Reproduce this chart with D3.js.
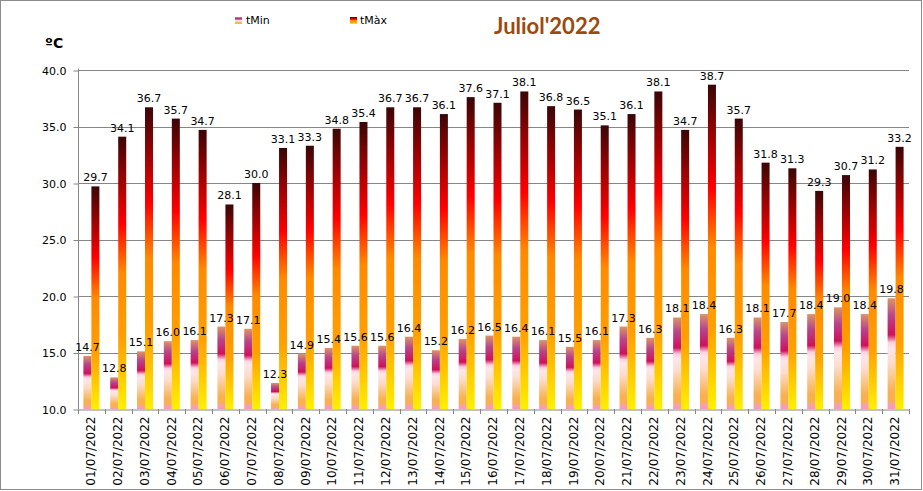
<!DOCTYPE html>
<html><head><meta charset="utf-8">
<script src="https://cdn.jsdelivr.net/npm/d3@7"></script>
<style>body{margin:0;background:#fff}svg{display:block}</style>
</head><body>
<svg id="c" width="923" height="491"></svg>
<script>
const dates = ["01/07/2022","02/07/2022","03/07/2022","04/07/2022","05/07/2022","06/07/2022","07/07/2022","08/07/2022","09/07/2022","10/07/2022","11/07/2022","12/07/2022","13/07/2022","14/07/2022","15/07/2022","16/07/2022","17/07/2022","18/07/2022","19/07/2022","20/07/2022","21/07/2022","22/07/2022","23/07/2022","24/07/2022","25/07/2022","26/07/2022","27/07/2022","28/07/2022","29/07/2022","30/07/2022","31/07/2022"];
const tMin = [14.7,12.8,15.1,16.0,16.1,17.3,17.1,12.3,14.9,15.4,15.6,15.6,16.4,15.2,16.2,16.5,16.4,16.1,15.5,16.1,17.3,16.3,18.1,18.4,16.3,18.1,17.7,18.4,19.0,18.4,19.8];
const tMax = [29.7,34.1,36.7,35.7,34.7,28.1,30.0,33.1,33.3,34.8,35.4,36.7,36.7,36.1,37.6,37.1,38.1,36.8,36.5,35.1,36.1,38.1,34.7,38.7,35.7,31.8,31.3,29.3,30.7,31.2,33.2];
const yTicks = [10,15,20,25,30,35,40];
const seriesNames = ["tMin","tMàx"];
const title = "Juliol'2022";
const unit = "ºC";

const svg = d3.select("#c");
const defs = svg.append("defs");
const gMin = defs.append("linearGradient").attr("id","gmin").attr("x1",0).attr("y1",0).attr("x2",0).attr("y2",1);
[[0,"#dc9468"],[0.16,"#b8448a"],[0.33,"#d0105c"],[0.40,"#fbd0e0"],[0.45,"#fde6ea"],[0.58,"#fcdccc"],[0.75,"#f9c07a"],[0.85,"#f8b050"],[0.92,"#f8b050"],[0.96,"#f8a0b0"],[1,"#f898b8"]]
  .forEach(s=>gMin.append("stop").attr("offset",s[0]).attr("stop-color",s[1]));
const gMax = defs.append("linearGradient").attr("id","gmax").attr("x1",0).attr("y1",0).attr("x2",0).attr("y2",1);
[[0,"#3a0606"],[0.32,"#ff0000"],[0.50,"#ff8a00"],[0.75,"#ffa000"],[1,"#fff000"]]
  .forEach(s=>gMax.append("stop").attr("offset",s[0]).attr("stop-color",s[1]));

// border
svg.append("rect").attr("x",0.5).attr("y",0.5).attr("width",921).attr("height",489).attr("fill","none").attr("stroke","#8c8c8c");

const x = d3.scaleBand().domain(dates).range([78,909]).padding(0);
const y = d3.scaleLinear().domain([10,40]).range([409,70]);
const axisColor = "#868686";
const font = "'DejaVu Sans', Verdana, sans-serif";

// gridlines
svg.append("g").selectAll("line").data(yTicks.filter(d=>d>10)).join("line")
  .attr("x1",78).attr("x2",909).attr("y1",d=>Math.round(y(d))+0.5).attr("y2",d=>Math.round(y(d))+0.5)
  .attr("stroke",axisColor).attr("stroke-width",1);

// y axis
const yAxis = svg.append("g").attr("transform","translate(78.5,0.5)")
  .call(d3.axisLeft(y).tickValues(yTicks).tickFormat(d3.format(".1f")).tickSize(5).tickSizeOuter(0));
yAxis.select(".domain").attr("stroke",axisColor).attr("d","M0,"+(y(40)-2)+"V"+y(10));
yAxis.selectAll(".tick line").attr("stroke",axisColor);
yAxis.selectAll(".tick text").attr("font-family",font).attr("font-size",11).attr("fill","#000").attr("x",-12).attr("dy","0.35em");

// bars
const bw = 8;
const gb = svg.append("g");
gb.selectAll("rect.min").data(dates).join("rect").attr("class","min")
  .attr("x",(d,i)=>x(d)+x.bandwidth()/2-bw).attr("width",bw)
  .attr("y",(d,i)=>y(tMin[i])).attr("height",(d,i)=>y(10)-y(tMin[i]))
  .attr("fill","url(#gmin)");
gb.selectAll("rect.max").data(dates).join("rect").attr("class","max")
  .attr("x",(d,i)=>x(d)+x.bandwidth()/2).attr("width",bw)
  .attr("y",(d,i)=>y(tMax[i])).attr("height",(d,i)=>y(10)-y(tMax[i]))
  .attr("fill","url(#gmax)");

// x axis
const xAxis = svg.append("g").attr("transform","translate(0.5,409.5)")
  .call(d3.axisBottom(x).tickSize(0).tickSizeOuter(0));
xAxis.select(".domain").attr("stroke",axisColor);
xAxis.selectAll(".tick line").remove();
svg.append("g").selectAll("line").data(d3.range(dates.length+1)).join("line")
  .attr("x1",i=>Math.round(78+i*x.step())+0.5).attr("x2",i=>Math.round(78+i*x.step())+0.5)
  .attr("y1",409).attr("y2",414).attr("stroke",axisColor);
xAxis.selectAll(".tick text").attr("font-family",font).attr("font-size",12).attr("fill","#000")
  .attr("transform","rotate(-90)").attr("text-anchor","end").attr("x",-7).attr("y",-1).attr("dy","0.35em");

// labels
const gl = svg.append("g").attr("font-family",font).attr("font-size",11).attr("fill","#000").attr("text-anchor","middle");
gl.selectAll("text.min").data(dates).join("text").attr("class","min")
  .attr("x",d=>x(d)+x.bandwidth()/2-bw/2).attr("y",(d,i)=>y(tMin[i])-5).text((d,i)=>tMin[i].toFixed(1));
gl.selectAll("text.max").data(dates).join("text").attr("class","max")
  .attr("x",d=>x(d)+x.bandwidth()/2+bw/2).attr("y",(d,i)=>y(tMax[i])-5).text((d,i)=>tMax[i].toFixed(1));

// unit
svg.append("text").attr("x",45).attr("y",48).attr("font-family",font).attr("font-weight","bold").attr("font-size",14).text(unit);

// legend
const lg = svg.append("g").attr("font-family",font).attr("font-size",11);
[[235,"url(#gmin)",246],[350,"url(#gmax)",360]].forEach((l,i)=>{
  lg.append("rect").attr("x",l[0]).attr("y",17).attr("width",7).attr("height",7).attr("fill",l[1]);
  lg.append("text").attr("x",l[2]).attr("y",24).text(seriesNames[i]);
});

// title
svg.append("text").attr("x",494).attr("y",34).attr("font-family","Lato, 'Open Sans', sans-serif").attr("font-weight","bold")
  .attr("font-size",22).attr("fill","#9c4a0c").text(title);
</script>
</body></html>
